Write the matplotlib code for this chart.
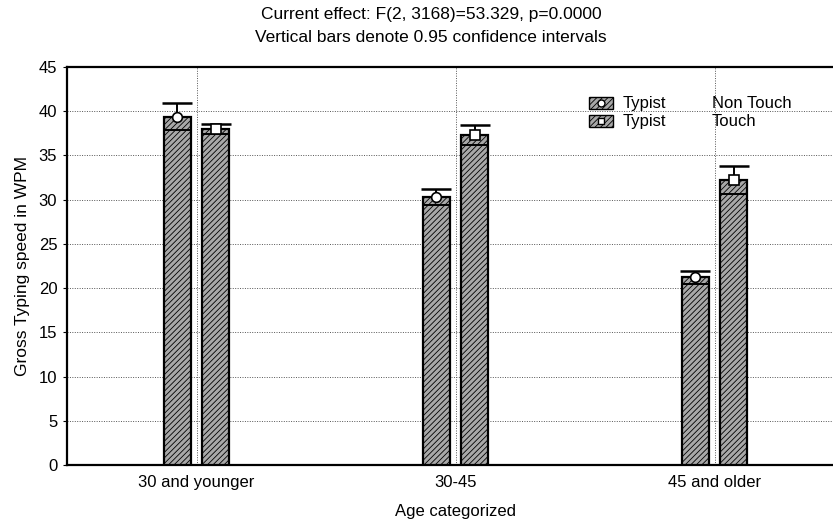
import matplotlib
matplotlib.use("Agg")
import matplotlib.pyplot as plt
import numpy as np
from matplotlib.patches import Rectangle

plt.rcParams["font.family"] = ["Liberation Sans", "DejaVu Sans"]
plt.rcParams["hatch.linewidth"] = 0.6

categories = ["30 and younger", "30-45", "45 and older"]
non_touch_mean = [39.4, 30.3, 21.2]
non_touch_ci = [1.5, 0.9, 0.7]
touch_mean = [38.0, 37.3, 32.2]
touch_ci = [0.6, 1.1, 1.6]
yticks = [0, 5, 10, 15, 20, 25, 30, 35, 40, 45]

fig = plt.figure(figsize=(8.33, 5.24), dpi=100)
ax = fig.add_axes([67 / 833, 1 - 465 / 524, 777 / 833, 398 / 524])

x = np.arange(len(categories))
width = 0.104
offset = 0.075
face = "#a8a8a8"


def draw_series(xpos, means, cis, marker):
    means = np.asarray(means)
    cis = np.asarray(cis)
    ax.bar(xpos, means, width=width, color=face, edgecolor="black",
           linewidth=1.6, hatch="//////", zorder=3)
    # line at the lower confidence limit inside the bar
    ax.hlines(means - cis, xpos - width / 2, xpos + width / 2,
              color="black", linewidth=1.4, zorder=4)
    # upper whisker only
    ax.vlines(xpos, means, means + cis, color="black", linewidth=1.4, zorder=5)
    ax.hlines(means + cis, xpos - width * 0.55, xpos + width * 0.55,
              color="black", linewidth=1.8, zorder=5)
    ax.plot(xpos, means, linestyle="none", marker=marker, markersize=7,
            markerfacecolor="white", markeredgecolor="black", markeredgewidth=1.2,
            zorder=6)


draw_series(x - offset, non_touch_mean, non_touch_ci, "o")
draw_series(x + offset, touch_mean, touch_ci, "s")

ax.set_xlim(-0.5, 2.5)
ax.set_ylim(0, 45)
ax.set_yticks(yticks)
ax.set_xticks(x)
ax.set_xticklabels(categories, fontsize=12)
ax.tick_params(axis="y", labelsize=12, length=3, direction="out", pad=4)
ax.tick_params(axis="x", length=0, pad=7)
ax.grid(True, linestyle=(0, (1, 1.5)), color="#555555", linewidth=0.7, zorder=0)
ax.set_axisbelow(True)
for side in ["left", "top", "bottom"]:
    ax.spines[side].set_linewidth(1.6)
ax.spines["right"].set_visible(False)

ax.set_xlabel("Age categorized", fontsize=12, labelpad=10)
ax.set_ylabel("Gross Typing speed in WPM", fontsize=12.5, labelpad=6)

fig.text(431 / 833, 1 - 15 / 524, "Current effect: F(2, 3168)=53.329, p=0.0000",
         ha="center", va="center", fontsize=12.5)
fig.text(431 / 833, 1 - 38 / 524, "Vertical bars denote 0.95 confidence intervals",
         ha="center", va="center", fontsize=12.5)

# legend drawn manually
legend_rows = [("Typist", "Non Touch", "o"), ("Typist", "Touch", "s")]
for i, (name, level, marker) in enumerate(legend_rows):
    ypix = 103 + i * 18
    yf = 1 - ypix / 524
    ybase = 1 - (ypix + 5) / 524
    xf0 = 589 / 833
    fig.patches.append(Rectangle((xf0, yf - 6 / 524), 24 / 833, 12 / 524,
                                 transform=fig.transFigure, facecolor=face,
                                 edgecolor="black", linewidth=1.0, hatch="//////",
                                 figure=fig, zorder=10))
    fig.lines.append(plt.Line2D([(589 + 12) / 833], [yf], marker=marker, markersize=5,
                                markerfacecolor="white", markeredgecolor="black",
                                transform=fig.transFigure, figure=fig, zorder=11))
    fig.text(623 / 833, ybase, name, ha="left", va="baseline", fontsize=12)
    fig.text(712 / 833, ybase, level, ha="left", va="baseline", fontsize=12)

fig.savefig("out.png", dpi=100, facecolor="white")
